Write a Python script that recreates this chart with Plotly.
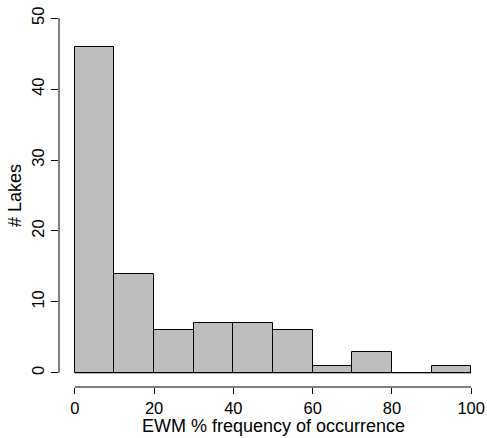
import plotly.graph_objects as go

# Histogram of EWM frequency of occurrence across lakes (10%-wide bins)
bin_edges = [0, 10, 20, 30, 40, 50, 60, 70, 80, 90, 100]
lake_counts = [46, 14, 6, 7, 7, 6, 1, 3, 0, 1]
x_ticks = [0, 20, 40, 60, 80, 100]
y_ticks = [0, 10, 20, 30, 40, 50]

centers = [(a + b) / 2 for a, b in zip(bin_edges[:-1], bin_edges[1:])]
widths = [b - a for a, b in zip(bin_edges[:-1], bin_edges[1:])]

font = dict(family="Liberation Sans, Arial, sans-serif", size=16.5, color="black")
title_font = dict(family="Liberation Sans, Arial, sans-serif", size=18, color="black")

fig = go.Figure()
fig.add_trace(go.Bar(
    x=centers, y=lake_counts, width=widths,
    marker=dict(color="#BEBEBE", line=dict(color="black", width=1)),
    hoverinfo="x+y", showlegend=False,
))

shapes = [
    # baseline under all bins (covers empty bins too)
    dict(type="line", xref="x", yref="y", x0=bin_edges[0], x1=bin_edges[-1], y0=0, y1=0,
         line=dict(color="black", width=1)),
    # detached axis lines spanning only the tick range
    dict(type="line", xref="x", yref="paper", x0=x_ticks[0], x1=x_ticks[-1], y0=0, y1=0,
         line=dict(color="black", width=1)),
    dict(type="line", xref="paper", yref="y", x0=0, x1=0, y0=y_ticks[0], y1=y_ticks[-1],
         line=dict(color="black", width=1)),
]

# x-axis title placed along the bottom edge, below the tick labels
annotations = [
    dict(text="EWM % frequency of occurrence", xref="paper", yref="paper",
         x=0.5, y=0, xanchor="center", yanchor="bottom", yshift=-50,
         borderpad=0, showarrow=False, font=title_font),
]

fig.update_layout(
    width=487, height=438,
    margin=dict(l=59, r=0, t=4, b=51, autoexpand=False),
    paper_bgcolor="white", plot_bgcolor="white",
    font=font, bargap=0, shapes=shapes, annotations=annotations,
    xaxis=dict(range=[-4, 104], tickvals=x_ticks, ticks="outside", ticklen=6,
               tickcolor="black", showgrid=False, zeroline=False, showline=False,
               tickfont=font, automargin=False),
    yaxis=dict(range=[-2, 52], tickvals=y_ticks, ticks="outside", ticklen=7,
               tickcolor="black", showgrid=False, zeroline=False, showline=False,
               tickangle=-90, tickfont=font, automargin=False,
               title=dict(text="# Lakes", font=title_font, standoff=3)),
)

fig.write_html("out.html")
